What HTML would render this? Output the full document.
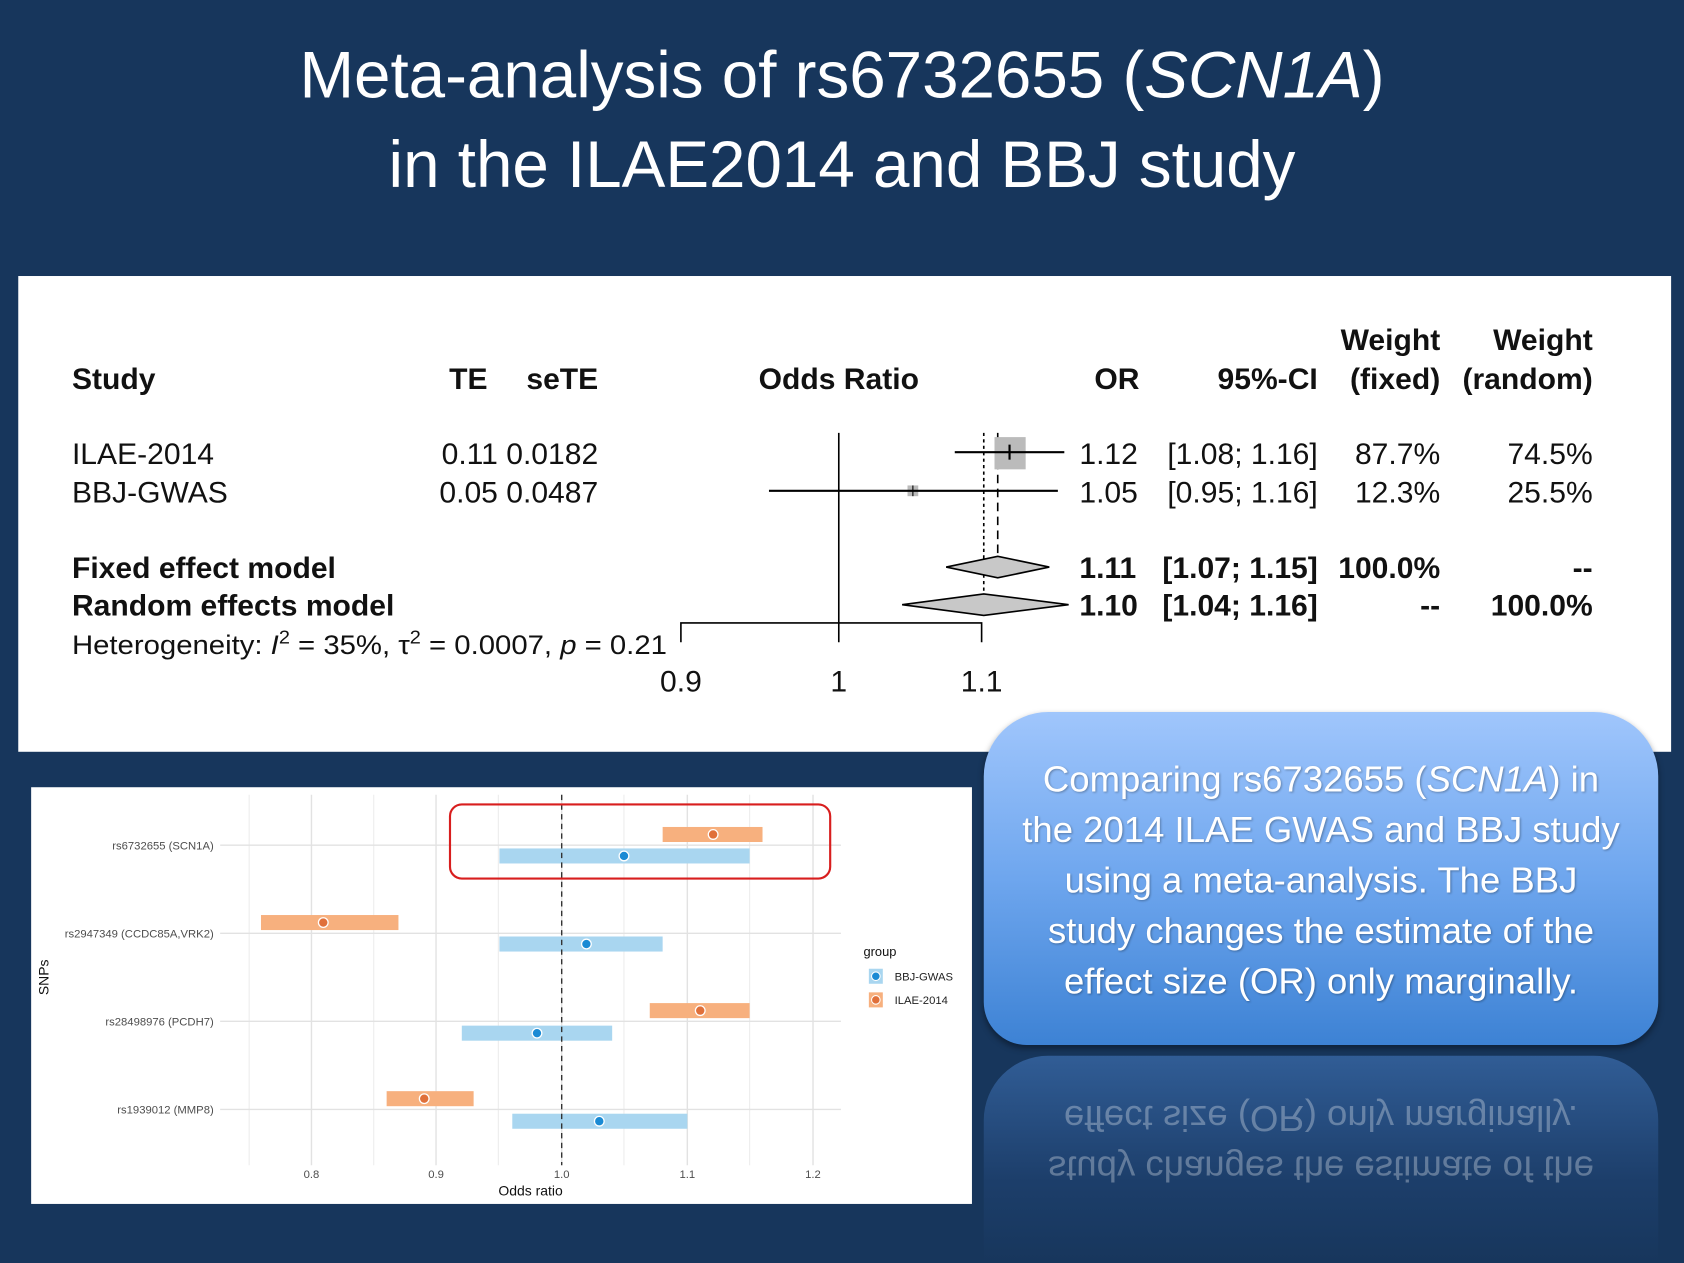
<!DOCTYPE html>
<html><head><meta charset="utf-8"><style>
html,body{margin:0;padding:0;background:#17365c;overflow:hidden;width:1684px;height:1263px}
#w{position:absolute;left:0;top:0;width:1568px;height:1176px;transform:scale(1.07398);transform-origin:0 0;background:#17365c;font-family:"Liberation Sans",sans-serif;overflow:hidden}
.t{position:absolute;left:0;width:1568px;text-align:center;color:#fff;font-size:61px}
.call{position:absolute;left:916px;top:663px;width:628px;height:310px;border-radius:60px 60px 40px 40px;background:linear-gradient(#a0c6fc,#6ea6ee 50%,#3d82d4);box-shadow:0 3px 6px rgba(0,0,0,.4);color:#fff;text-align:center;font-size:34px;line-height:47px;box-sizing:border-box;padding-top:40px;text-shadow:1px 1px 2px rgba(0,0,0,.3)}
.refl{position:absolute;left:916px;top:983px;width:628px;height:193px;border-radius:60px 60px 0 0;overflow:hidden;background:linear-gradient(rgba(80,140,220,.45),rgba(60,110,190,.15) 60%,rgba(23,54,92,0));}
.refl div{transform:scaleY(-1);color:rgba(255,255,255,.3);text-align:center;font-size:34px;line-height:47px;position:absolute;left:0;width:628px;top:34px}
</style></head><body><div id="w">
<div class="t" style="top:35px">Meta-analysis of rs6732655 (<i>SCN1A</i>)</div>
<div class="t" style="top:118px">in the ILAE2014 and BBJ study</div>

<svg style="position:absolute;left:0;top:0" width="1568" height="1176" font-family="Liberation Sans, sans-serif">
<rect x="17" y="257" width="1539" height="443" fill="#fff"/>
<g font-size="28" fill="#111">
<g font-weight="bold">
<text x="67" y="362">Study</text>
<text x="454" y="362" text-anchor="end">TE</text>
<text x="557" y="362" text-anchor="end">seTE</text>
<text x="781" y="362" text-anchor="middle">Odds Ratio</text>
<text x="1061" y="362" text-anchor="end">OR</text>
<text x="1227" y="362" text-anchor="end">95%-CI</text>
<text x="1341" y="326" text-anchor="end">Weight</text>
<text x="1341" y="362" text-anchor="end">(fixed)</text>
<text x="1483" y="326" text-anchor="end">Weight</text>
<text x="1483" y="362" text-anchor="end">(random)</text>
<text x="67" y="538">Fixed effect model</text>
<text x="67" y="573">Random effects model</text>
<text x="1005" y="538">1.11</text>
<text x="1227" y="538" text-anchor="end">[1.07; 1.15]</text>
<text x="1341" y="538" text-anchor="end">100.0%</text>
<text x="1483" y="538" text-anchor="end">--</text>
<text x="1005" y="573">1.10</text>
<text x="1227" y="573" text-anchor="end">[1.04; 1.16]</text>
<text x="1341" y="573" text-anchor="end">--</text>
<text x="1483" y="573" text-anchor="end">100.0%</text>
</g>
<text x="67" y="432">ILAE-2014</text>
<text x="67" y="468">BBJ-GWAS</text>
<text x="557" y="432" text-anchor="end">0.11 0.0182</text>
<text x="557" y="468" text-anchor="end">0.05 0.0487</text>
<text x="1005" y="432">1.12</text>
<text x="1227" y="432" text-anchor="end">[1.08; 1.16]</text>
<text x="1005" y="468">1.05</text>
<text x="1227" y="468" text-anchor="end">[0.95; 1.16]</text>
<text x="1341" y="432" text-anchor="end">87.7%</text>
<text x="1341" y="468" text-anchor="end">12.3%</text>
<text x="1483" y="432" text-anchor="end">74.5%</text>
<text x="1483" y="468" text-anchor="end">25.5%</text>
<text x="634" y="644" text-anchor="middle">0.9</text>
<text x="781" y="644" text-anchor="middle">1</text>
<text x="914" y="644" text-anchor="middle">1.1</text>
</g>
<text x="67" y="609" font-size="25" fill="#111" textLength="554" lengthAdjust="spacingAndGlyphs">Heterogeneity: <tspan font-style="italic">I</tspan><tspan dy="-10" font-size="17">2</tspan><tspan dy="10"> = 35%, τ</tspan><tspan dy="-10" font-size="17">2</tspan><tspan dy="10"> = 0.0007, </tspan><tspan font-style="italic">p</tspan> = 0.21</text>
<g stroke="#000" stroke-width="1.5" fill="none">
<line x1="781" y1="403" x2="781" y2="598"/>
<polyline points="634,598 634,580 914,580 914,598"/>
<line x1="916" y1="403" x2="916" y2="555" stroke-dasharray="3,3"/>
<line x1="929" y1="403" x2="929" y2="520" stroke-dasharray="8,5"/>
</g>
<rect x="926" y="407" width="29" height="30" fill="#bbb"/>
<rect x="845" y="452" width="10" height="10" fill="#bbb"/>
<g stroke="#000" stroke-width="2">
<line x1="889" y1="421" x2="991" y2="421"/><line x1="940" y1="414" x2="940" y2="428"/>
<line x1="716" y1="457" x2="985" y2="457"/><line x1="850" y1="452" x2="850" y2="462" stroke-width="1"/>
</g>
<polygon points="881,528 929,518 977,528 929,538" fill="#c8c8c8" stroke="#000" stroke-width="1.5"/>
<polygon points="840,563 916,553 995,563 916,573" fill="#c8c8c8" stroke="#000" stroke-width="1.5"/>

<rect x="29" y="733" width="876" height="388" fill="#fff"/>
<g stroke="#ececec" stroke-width="1">
<line x1="232" y1="740" x2="232" y2="1085"/><line x1="348" y1="740" x2="348" y2="1085"/><line x1="464" y1="740" x2="464" y2="1085"/><line x1="581" y1="740" x2="581" y2="1085"/><line x1="698" y1="740" x2="698" y2="1085"/>
</g>
<g stroke="#e2e2e2" stroke-width="1.3">
<line x1="290" y1="740" x2="290" y2="1085"/><line x1="406" y1="740" x2="406" y2="1085"/><line x1="523" y1="740" x2="523" y2="1085"/><line x1="640" y1="740" x2="640" y2="1085"/><line x1="757" y1="740" x2="757" y2="1085"/>
<line x1="205" y1="787" x2="783" y2="787"/><line x1="205" y1="869" x2="783" y2="869"/><line x1="205" y1="951" x2="783" y2="951"/><line x1="205" y1="1033" x2="783" y2="1033"/>
</g>
<g fill="#f7b07e">
<rect x="617" y="770" width="93" height="14"/><rect x="243" y="852" width="128" height="14"/><rect x="605" y="934" width="93" height="14"/><rect x="360" y="1016" width="81" height="14"/>
</g>
<g fill="#a9d6f0">
<rect x="465" y="790" width="233" height="14"/><rect x="465" y="872" width="152" height="14"/><rect x="430" y="955" width="140" height="14"/><rect x="477" y="1037" width="163" height="14"/>
</g>
<line x1="523" y1="740" x2="523" y2="1085" stroke="#333" stroke-width="1.3" stroke-dasharray="5,4"/>
<g stroke="#fff" stroke-width="1.2">
<g fill="#e0703a"><circle cx="664" cy="777" r="4.5"/><circle cx="301" cy="859" r="4.5"/><circle cx="652" cy="941" r="4.5"/><circle cx="395" cy="1023" r="4.5"/></g>
<g fill="#1a8ad4"><circle cx="581" cy="797" r="4.5"/><circle cx="546" cy="879" r="4.5"/><circle cx="500" cy="962" r="4.5"/><circle cx="558" cy="1044" r="4.5"/></g>
</g>
<rect x="419" y="749" width="354" height="69" rx="11" fill="none" stroke="#d81e1e" stroke-width="2"/>
<g font-size="10.5" fill="#4d4d4d" text-anchor="end">
<text x="199" y="791">rs6732655 (SCN1A)</text><text x="199" y="873">rs2947349 (CCDC85A,VRK2)</text><text x="199" y="955">rs28498976 (PCDH7)</text><text x="199" y="1037">rs1939012 (MMP8)</text>
</g>
<g font-size="10.5" fill="#4d4d4d" text-anchor="middle">
<text x="290" y="1097">0.8</text><text x="406" y="1097">0.9</text><text x="523" y="1097">1.0</text><text x="640" y="1097">1.1</text><text x="757" y="1097">1.2</text>
</g>
<text x="494" y="1113" font-size="13" text-anchor="middle" fill="#111">Odds ratio</text>
<text transform="translate(45,910) rotate(-90)" font-size="13" text-anchor="middle" fill="#111">SNPs</text>
<text x="804" y="890" font-size="12" fill="#111">group</text>
<rect x="809" y="902" width="13" height="14" fill="#a9d6f0"/><circle cx="815.5" cy="909" r="4" fill="#1a8ad4" stroke="#fff"/>
<rect x="809" y="924" width="13" height="14" fill="#f7b07e"/><circle cx="815.5" cy="931" r="4" fill="#e0703a" stroke="#fff"/>
<text x="833" y="913" font-size="10.5" fill="#222">BBJ-GWAS</text>
<text x="833" y="935" font-size="10.5" fill="#222">ILAE-2014</text>
</svg>

<div class="call">Comparing rs6732655 (<i>SCN1A</i>) in<br>the 2014 ILAE GWAS and BBJ study<br>using a meta-analysis. The BBJ<br>study changes the estimate of the<br>effect size (OR) only marginally.</div>
<div class="refl"><div>study changes the estimate of the<br>effect size (OR) only marginally.</div></div>
</div></body></html>
